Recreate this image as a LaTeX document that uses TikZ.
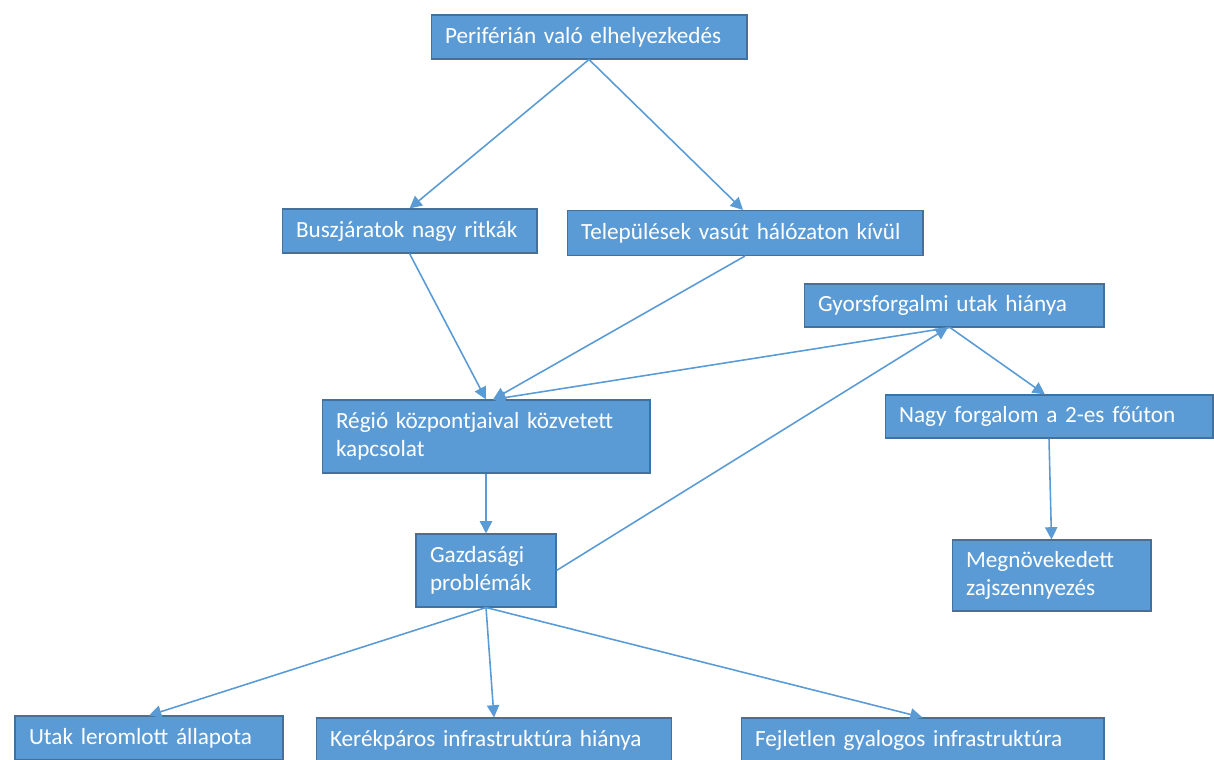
\documentclass[tikz,border=0pt]{standalone}
\usepackage{fontspec}
\setmainfont{Carlito}
\usetikzlibrary{arrows.meta}
\definecolor{boxblue}{HTML}{5B9BD5}
\definecolor{boxline}{HTML}{41719C}
\definecolor{arrowblue}{HTML}{5B9BD5}
\tikzset{
  box/.style={draw=boxline, line width=0.6pt, fill=boxblue, text=white,
    font=\fontsize{13.2}{16}\selectfont, align=left, inner xsep=0.28cm,
    inner ysep=0pt, anchor=center},
  link/.style={draw=arrowblue, line width=0.9pt,
    -{Triangle[width=7pt,length=7pt]}}
}
\begin{document}
\begin{tikzpicture}[x=0.02cm, y=-0.02cm]
    \useasboundingbox (0,0) rectangle (1214,760);
    % boxes
    \node[box, text width=5.76cm, minimum height=0.88cm] (top) at (589,37) {Periférián való elhelyezkedés};
    \node[box, text width=4.54cm, minimum height=0.88cm] (busz) at (409.5,231) {Buszjáratok nagy ritkák};
    \node[box, text width=6.56cm, minimum height=0.9cm] (telep) at (745,233) {Települések vasút hálózaton kívül};
    \node[box, text width=5.44cm, minimum height=0.86cm] (gyors) at (954,305.5) {Gyorsforgalmi utak hiánya};
    \node[box, text width=6.0cm, minimum height=0.86cm] (nagy) at (1049,416.5) {Nagy forgalom a 2-es főúton};
    \node[box, text width=3.42cm, minimum height=1.42cm] (zaj) at (1051.5,575.5) {Megnövekedett\\zajszennyezés};
    \node[box, text width=6.0cm, minimum height=1.46cm] (regio) at (486,436.5) {Régió központjaival közvetett\\kapcsolat};
    \node[box, text width=2.24cm, minimum height=1.46cm] (gazd) at (486,570.5) {Gazdasági\\problémák};
    \node[box, text width=4.8cm, minimum height=0.88cm] (utak) at (149,738) {Utak leromlott állapota};
    \node[box, text width=6.56cm, minimum height=0.88cm] (kerek) at (494,740) {Kerékpáros infrastruktúra hiánya};
    \node[box, text width=6.7cm, minimum height=0.88cm] (fejl) at (922.5,740) {Fejletlen gyalogos infrastruktúra};
    % connectors
    \draw[link] (top.south) -- (busz.north);
    \draw[link] (top.south) -- ([xshift=-0.04cm]telep.north);
    \draw[link] (busz.south) -- (regio.north);
    \draw[link] (telep.south) -- ([xshift=0.14cm]regio.north);
    \draw[link] ([xshift=-0.08cm]gyors.south) -- ([xshift=0.14cm]regio.north);
    \draw[link] ([xshift=-0.08cm]gyors.south) -- ([xshift=-0.08cm]nagy.north);
    \draw[link] (nagy.south) -- (zaj.north);
    \draw[link] (regio.south) -- (gazd.north);
    \draw[link] (gazd.east) -- ([xshift=-0.12cm]gyors.south);
    \draw[link] (gazd.south) -- (utak.north);
    \draw[link] (gazd.south) -- (kerek.north);
    \draw[link] (gazd.south) -- (fejl.north);
\end{tikzpicture}
\end{document}
